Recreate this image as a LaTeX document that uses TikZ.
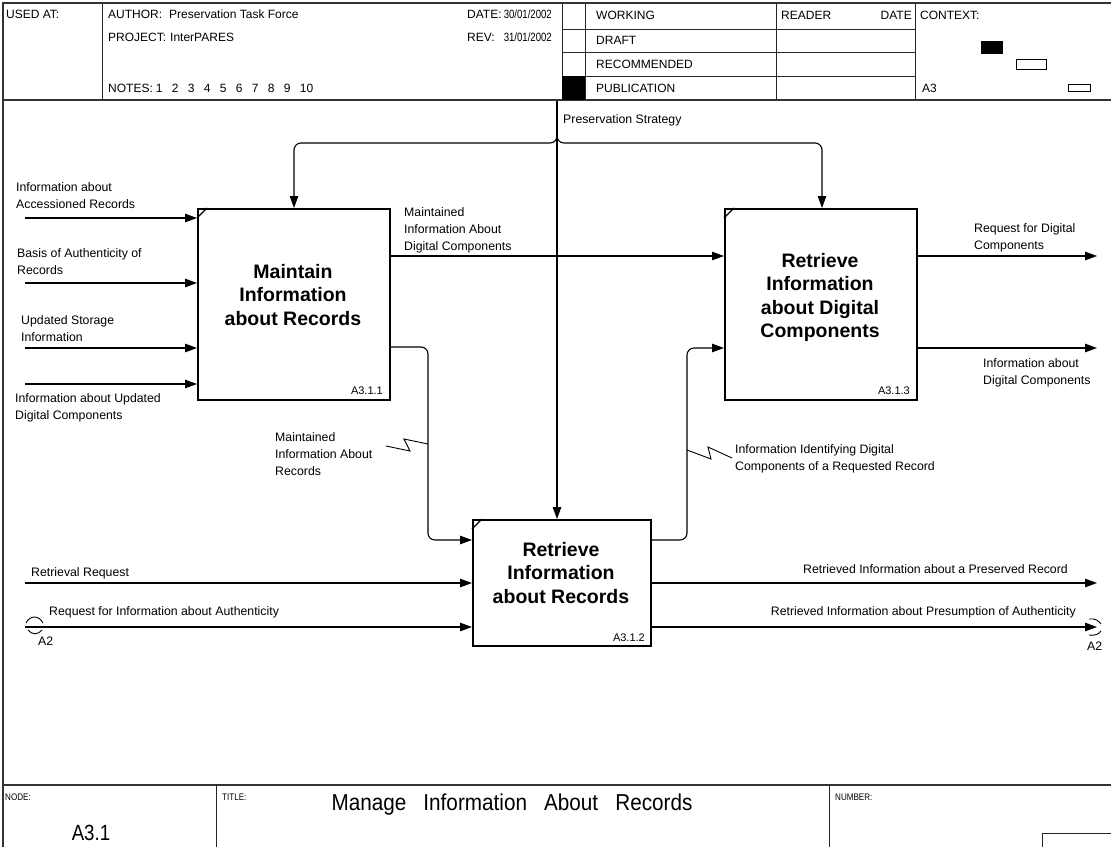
\documentclass[tikz,border=0pt]{standalone}
\usepackage{fontspec}
\setmainfont{Liberation Sans}
\usetikzlibrary{arrows.meta,calc}

\begin{document}
\begin{tikzpicture}[x=1pt,y=-1pt,
  frame/.style={line width=1.4pt, draw=black!80},
  cell/.style={line width=1pt, draw=black!85},
  fn/.style={draw, line width=2.2pt, inner sep=0pt, anchor=north west},
  wire/.style={line width=1.1pt},
  arr/.style={line width=1.1pt, -{Triangle[length=12pt,width=8.5pt]}},
  lbl/.style={font=\fontsize{12.3}{16.8}\selectfont, inner sep=0pt, align=left, anchor=north west},
  lbll/.style={font=\fontsize{12.3}{16.8}\selectfont, inner sep=0pt},
  hdr/.style={font=\fontsize{12}{15}\selectfont, inner sep=0pt, anchor=west},
  ttl/.style={font=\fontsize{19.5}{23.5}\selectfont\bfseries, inner sep=0pt, align=center, anchor=north},
  idl/.style={font=\fontsize{11}{13}\selectfont, inner sep=0pt, anchor=base east},
  ftl/.style={font=\fontsize{9.5}{11}\selectfont, inner sep=0pt, anchor=west}]

\useasboundingbox (0,0) rectangle (1111,847);

% ---------- frame and header form ----------
\draw[frame] (3,847) -- (3,3) -- (1111,3);
\draw[frame] (3,100) -- (1111,100);
\draw[cell] (102,3) -- (102,100);
\draw[cell] (562,3) -- (562,100);
\draw[cell] (585,3) -- (585,100);
\draw[cell] (776,3) -- (776,100);
\draw[cell] (915,3) -- (915,100);
\foreach \yy in {29,52,76} \draw[cell] (562,\yy) -- (915,\yy);
\fill (562,76) rectangle (585,100);

\node[hdr] (usedat) at (6,14) {USED AT:};
\node[hdr] (author) at (108,14) {AUTHOR:\hspace{7pt}Preservation Task Force};
\node[hdr] (datel) at (467,14) {DATE:};
\node[hdr, anchor=east] (datev) at (552,14) {\scalebox{0.8}[1]{30/01/2002}};
\node[hdr] (project) at (108,37) {PROJECT:\hspace{4pt}InterPARES};
\node[hdr] (revl) at (467,37) {REV:};
\node[hdr, anchor=east] (revv) at (552,37) {\scalebox{0.8}[1]{31/01/2002}};
\node[hdr] (notes) at (108,88) {NOTES:\hspace{3pt}1\hspace{6pt} 2\hspace{6pt} 3\hspace{6pt} 4\hspace{6pt} 5\hspace{6pt} 6\hspace{6pt} 7\hspace{6pt} 8\hspace{6pt} 9\hspace{6pt} 10};
\node[hdr] (working) at (596,15) {WORKING};
\node[hdr] (draft) at (596,40) {DRAFT};
\node[hdr] (recom) at (596,64) {RECOMMENDED};
\node[hdr] (publ) at (596,88) {PUBLICATION};
\node[hdr] (reader) at (781,15) {READER};
\node[hdr, anchor=east] (rdate) at (912,15) {DATE};
\node[hdr] (context) at (920,15) {CONTEXT:};
\node[hdr] (ctxa) at (922,88) {A3};
\fill (981,41) rectangle (1003,54);
\draw[line width=0.9pt] (1016,59) rectangle (1046,69);
\draw[line width=0.9pt] (1068,84) rectangle (1090,91);

% ---------- footer form ----------
\draw[frame] (3,785) -- (1111,785);
\draw[cell] (216,785) -- (216,847);
\draw[cell] (829,785) -- (829,847);
\draw[cell] (1042,847) |- (1111,833);
\node[ftl] (nodel) at (5,797) {\scalebox{0.85}[1]{NODE:}};
\node[ftl] (titlel) at (222,797) {\scalebox{0.85}[1]{TITLE:}};
\node[ftl] (numberl) at (835,797) {\scalebox{0.85}[1]{NUMBER:}};
\node[inner sep=0pt, font=\fontsize{22}{24}\selectfont] (nodev) at (91,833) {\scalebox{0.85}[1]{A3.1}};
\node[inner sep=0pt, font=\fontsize{23}{26}\selectfont] (title) at (512,805)
  {\scalebox{0.9}[1]{Manage\hspace{19pt}Information\hspace{19pt}About\hspace{19pt}Records}};

% ---------- activity boxes ----------
\node[fn, minimum width=192pt, minimum height=191pt] (m1) at (197,208) {};
\node[fn, minimum width=192pt, minimum height=191pt] (m3) at (724,208) {};
\node[fn, minimum width=178pt, minimum height=126pt] (m2) at (472,519) {};
\foreach \b in {m1,m2,m3}
  \draw[line width=1.2pt] (\b.north west) ++(0,10) -- ++(10,-10);

\node[ttl] (m1t) at (293,264) {Maintain\\Information\\about Records};
\node[ttl] (m3t) at (820,253) {Retrieve\\Information\\about Digital\\Components};
\node[ttl] (m2t) at (561,542) {Retrieve\\Information\\about Records};
\node[idl] (m1id) at (383,394) {A3.1.1};
\node[idl] (m3id) at (910,394) {A3.1.3};
\node[idl] (m2id) at (645,641) {A3.1.2};

% ---------- inputs to A3.1.1 ----------
\coordinate (in1) at (25,218);
\coordinate (in2) at (25,283);
\coordinate (in3) at (25,348);
\coordinate (in4) at (25,384);
\foreach \c in {in1,in2,in3,in4} \draw[arr] (\c) -- (\c -| m1.west);
\node[lbl] (l1) at (16,182.5) {Information about\\Accessioned Records};
\node[lbl] (l2) at (17,248.5) {Basis of Authenticity of\\Records};
\node[lbl] (l3) at (21,315.5) {Updated Storage\\Information};
\node[lbl] (l4) at (15,393.5) {Information about Updated\\Digital Components};

% ---------- control: Preservation Strategy ----------
\coordinate (ctop) at (557,101);
\coordinate (cb) at (557,131);
\coordinate (k1) at (294,143);
\coordinate (k3) at (822,143);
\draw[arr] (ctop) -- (ctop |- m2.north);
\draw[arr, rounded corners=7pt] (cb) -- (cb |- k1) -- (k1) -- (k1 |- m1.north);
\draw[arr, rounded corners=7pt] (cb) -- (cb |- k3) -- (k3) -- (k3 |- m3.north);
\node[lbll, anchor=west] (lps) at (563,120) {Preservation Strategy};

% ---------- A3.1.1 to A3.1.3 ----------
\coordinate (r1) at (0,256);
\draw[arr] (m1.east |- r1) -- (m3.west |- r1);
\node[lbl] (l5) at (404,207.5) {Maintained\\Information About\\Digital Components};

% ---------- A3.1.1 to A3.1.2 ----------
\coordinate (r2) at (428,347);
\coordinate (r3) at (428,540);
\draw[arr, rounded corners=7pt] (m1.east |- r2) -- (r2) -- (r3) -- (m2.west |- r3);
\node[lbl] (l6) at (275,432.5) {Maintained\\Information About\\Records};
\draw[wire, line width=0.9pt] (386,446) -- (410,451) -- (404,439) -- (428,444);

% ---------- A3.1.2 to A3.1.3 ----------
\coordinate (r4) at (687,540);
\coordinate (r5) at (687,348);
\draw[arr, rounded corners=7pt] (m2.east |- r4) -- (r4) -- (r5) -- (m3.west |- r5);
\node[lbl] (l7) at (735,444.5) {Information Identifying Digital\\Components of a Requested Record};
\draw[wire, line width=0.9pt] (687,450) -- (711,459) -- (708,447) -- (732,458);

% ---------- outputs of A3.1.3 ----------
\coordinate (o1) at (1097,256);
\coordinate (o2) at (1097,348);
\draw[arr] (m3.east |- o1) -- (o1);
\draw[arr] (m3.east |- o2) -- (o2);
\node[lbl] (l8) at (974,223.5) {Request for Digital\\Components};
\node[lbl] (l9) at (983,358.5) {Information about\\Digital Components};

% ---------- inputs to A3.1.2 ----------
\coordinate (in5) at (25,583);
\coordinate (in6) at (25,627);
\draw[arr] (in5) -- (in5 -| m2.west);
\draw[arr] (in6) -- (in6 -| m2.west);
\node[lbll, anchor=west] (l10) at (31,573) {Retrieval Request};
\node[lbll, anchor=west] (l11) at (49,612) {Request for Information about Authenticity};
\draw[line width=0.9pt] (26,623) .. controls (30,615) and (39,615) .. (43,623);
\draw[line width=0.9pt] (28,630) .. controls (32,635) and (38,635) .. (42,630);
\node[lbll, anchor=west] (t1) at (38,641) {A2};

% ---------- outputs of A3.1.2 ----------
\coordinate (o3) at (1097,583);
\coordinate (o4) at (1097,627);
\draw[arr] (m2.east |- o3) -- (o3);
\draw[arr] (m2.east |- o4) -- (o4);
\node[lbll, anchor=east] (l12) at (1068,569) {Retrieved Information about a Preserved Record};
\node[lbll, anchor=east] (l13) at (1076,612) {Retrieved Information about Presumption of Authenticity};
\draw[line width=0.9pt] (1089,619) .. controls (1095,618) and (1099,621) .. (1101,624);
\draw[line width=0.9pt] (1101,631) .. controls (1099,634) and (1095,636) .. (1089,635);
\node[lbll, anchor=west] (t2) at (1087,646) {A2};

\end{tikzpicture}
\end{document}
